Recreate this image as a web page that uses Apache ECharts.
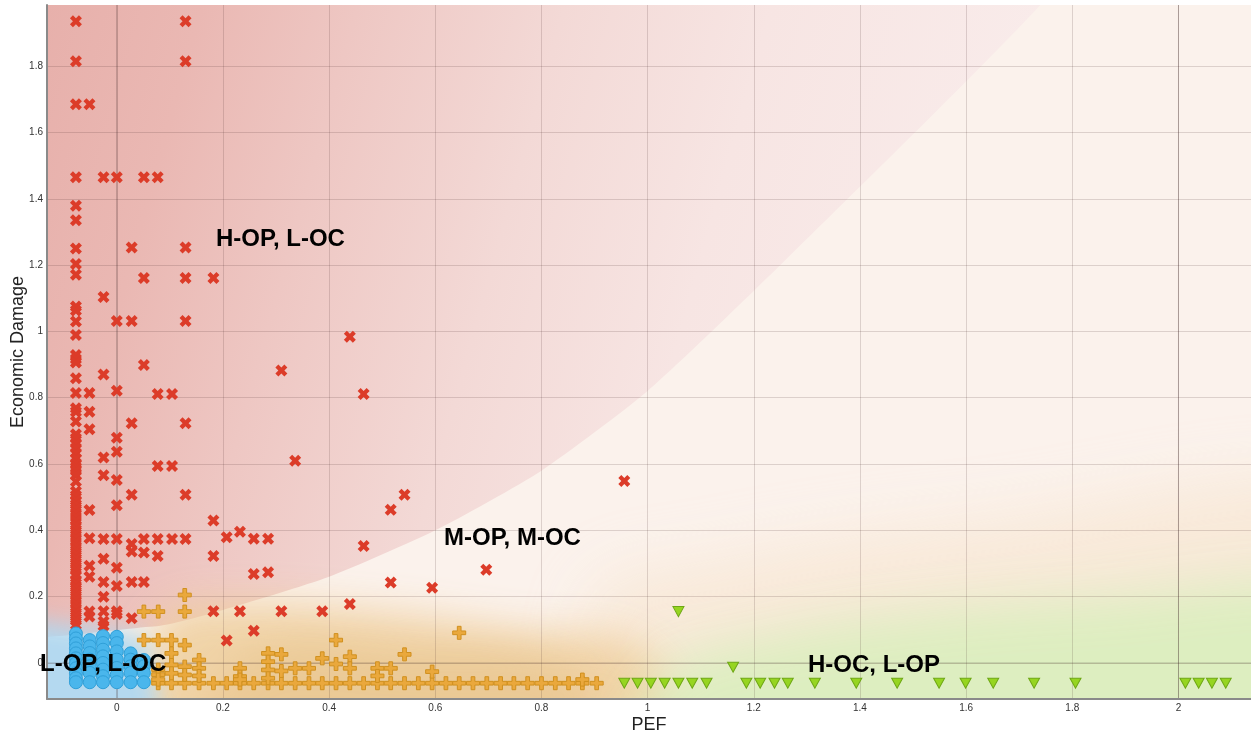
<!DOCTYPE html>
<html>
<head>
<meta charset="utf-8">
<script src="https://cdn.jsdelivr.net/npm/echarts@6/dist/echarts.min.js"></script>
<style>
html,body{margin:0;padding:0;background:#ffffff;}
#chart{width:1251px;height:736px;}
</style>
</head>
<body>
<div id="chart"></div>
<script>
// ---------------- DATA ----------------
// Axis ranges and tick labels
const xRange = [-0.1315, 2.1366];
const yRange = [-0.1086, 1.9843];
const xTickLabels = ['0','0.2','0.4','0.6','0.8','1','1.2','1.4','1.6','1.8','2'];
const yTickLabels = ['0','0.2','0.4','0.6','0.8','1','1.2','1.4','1.6','1.8'];

// Region labels (text annotations)
const regionLabels = ['H-OP, L-OC', 'M-OP, M-OC', 'H-OC, L-OP', 'L-OP, L-OC'];

// Red "x" points (high OP, low OC)
const redPoints = [
  [-0.077,1.935],[-0.077,1.815],[-0.077,1.685],[-0.077,1.465],[-0.077,1.379],[-0.077,1.335],
  [-0.077,1.25],[-0.077,1.203],[-0.077,1.171],[-0.077,1.075],[-0.077,1.063],[-0.077,1.03],
  [-0.077,0.989],[-0.077,0.929],[-0.077,0.917],[-0.077,0.906],[-0.077,0.859],[-0.077,0.814],
  [-0.077,0.768],[-0.077,0.758],[-0.077,0.728],[-0.077,0.69],[-0.077,0.678],[-0.077,0.663],
  [-0.077,0.648],[-0.077,0.633],[-0.077,0.617],[-0.077,0.602],[-0.077,0.59],[-0.077,0.58],
  [-0.077,0.567],[-0.077,0.547],[-0.077,0.517],[-0.077,0.505],[-0.077,0.49],[-0.077,0.478],
  [-0.077,0.465],[-0.077,0.452],[-0.077,0.44],[-0.077,0.428],[-0.077,0.415],[-0.077,0.402],
  [-0.077,0.39],[-0.077,0.377],[-0.077,0.365],[-0.077,0.352],[-0.077,0.34],[-0.077,0.328],
  [-0.077,0.315],[-0.077,0.302],[-0.077,0.29],[-0.077,0.28],[-0.077,0.265],[-0.077,0.25],
  [-0.077,0.24],[-0.077,0.228],[-0.077,0.215],[-0.077,0.203],[-0.077,0.19],[-0.077,0.178],
  [-0.077,0.165],[-0.077,0.152],[-0.077,0.14],[-0.077,0.128],[-0.077,0.115],
  [-0.0515,1.685],[-0.0515,0.814],[-0.0515,0.758],[-0.0515,0.705],[-0.0515,0.461],[-0.0515,0.376],
  [-0.0515,0.293],[-0.0515,0.260],[-0.0515,0.155],[-0.0515,0.140],
  [-0.025,1.465],[-0.025,1.104],[-0.025,0.870],[-0.025,0.620],[-0.025,0.566],[-0.025,0.374],
  [-0.025,0.314],[-0.025,0.244],[-0.025,0.200],[-0.025,0.156],[-0.025,0.125],[-0.025,0.112],
  [0,1.465],[0,1.031],[0,0.821],[0,0.679],[0,0.637],[0,0.552],[0,0.476],[0,0.374],
  [0,0.287],[0,0.232],[0,0.156],[0,0.148],
  [0.028,1.253],[0.028,1.031],[0.028,0.723],[0.028,0.507],[0.028,0.359],[0.028,0.336],
  [0.028,0.244],[0.028,0.135],
  [0.051,1.465],[0.051,1.161],[0.051,0.899],[0.051,0.374],[0.051,0.333],[0.051,0.244],
  [0.077,1.465],[0.077,0.811],[0.077,0.594],[0.077,0.374],[0.077,0.323],
  [0.104,0.811],[0.104,0.594],[0.104,0.374],
  [0.1295,1.935],[0.1295,1.815],[0.1295,1.253],[0.1295,1.161],[0.1295,1.031],[0.1295,0.723],
  [0.1295,0.507],[0.1295,0.374],
  [0.182,1.161],[0.182,0.430],[0.182,0.323],[0.182,0.156],
  [0.207,0.379],[0.207,0.068],
  [0.232,0.396],[0.232,0.156],
  [0.258,0.375],[0.258,0.268],[0.258,0.097],
  [0.285,0.375],[0.285,0.274],
  [0.310,0.882],[0.310,0.156],
  [0.336,0.610],[0.387,0.156],
  [0.439,0.984],[0.439,0.178],
  [0.465,0.811],[0.465,0.353],
  [0.516,0.462],[0.516,0.243],
  [0.542,0.507],[0.594,0.227],[0.696,0.281],[0.956,0.549]
];

// Orange "+" points (medium OP, medium OC)
const orangePoints = [
  [0.078,-0.061],[0.103,-0.061],[0.128,-0.061],[0.155,-0.061],[0.182,-0.061],[0.207,-0.061],
  [0.232,-0.061],[0.258,-0.061],[0.285,-0.061],[0.310,-0.061],[0.336,-0.061],[0.362,-0.061],
  [0.387,-0.061],[0.413,-0.061],[0.439,-0.061],[0.465,-0.061],[0.491,-0.061],[0.516,-0.061],
  [0.542,-0.061],[0.568,-0.061],[0.594,-0.061],[0.620,-0.061],[0.645,-0.061],[0.671,-0.061],
  [0.697,-0.061],[0.723,-0.061],[0.748,-0.061],[0.774,-0.061],[0.800,-0.061],[0.826,-0.061],
  [0.851,-0.061],[0.877,-0.061],[0.904,-0.061],
  [0.128,0.205],[0.051,0.155],[0.078,0.155],[0.128,0.155],
  [0.051,0.069],[0.078,0.069],[0.103,0.069],[0.128,0.054],
  [0.103,0.029],[0.103,-0.006],[0.103,-0.031],
  [0.078,-0.02],[0.078,-0.035],[0.078,-0.05],
  [0.128,-0.011],[0.128,-0.036],
  [0.155,0.009],[0.155,-0.016],[0.155,-0.039],
  [0.232,-0.016],[0.232,-0.041],[0.232,-0.05],
  [0.285,0.029],[0.285,0.004],[0.285,-0.021],[0.285,-0.046],
  [0.310,0.026],[0.310,-0.024],
  [0.336,-0.016],[0.362,-0.016],[0.387,0.014],
  [0.413,0.069],[0.413,-0.003],
  [0.439,0.019],[0.439,-0.016],
  [0.491,-0.016],[0.491,-0.039],
  [0.516,-0.016],[0.542,0.026],[0.594,-0.026],[0.645,0.091],[0.877,-0.05]
];

// Blue circle points (low OP, low OC)
const bluePoints = [
  [-0.077,0.089],[-0.077,0.074],[-0.077,0.059],[-0.077,0.044],[-0.077,0.029],[-0.077,0.014],
  [-0.077,-0.001],[-0.077,-0.016],[-0.077,-0.031],[-0.077,-0.046],[-0.077,-0.058],
  [-0.051,0.069],[-0.051,0.05],[-0.051,0.03],[-0.051,0.01],[-0.051,-0.01],[-0.051,-0.03],[-0.051,-0.058],
  [-0.026,0.081],[-0.026,0.06],[-0.026,0.04],[-0.026,0.02],[-0.026,0.0],[-0.026,-0.02],[-0.026,-0.04],[-0.026,-0.058],
  [0,0.079],[0,0.06],[0,0.035],[0,0.01],[0,-0.015],[0,-0.035],[0,-0.058],
  [0.026,0.029],[0.026,0.01],[0.026,-0.01],[0.026,-0.03],[0.026,-0.058],
  [0.051,0.009],[0.051,-0.01],[0.051,-0.03],[0.051,-0.058]
];

// Green triangle points (high OC, low OP)
const greenPoints = [
  [0.956,-0.061],[0.981,-0.061],[1.006,-0.061],[1.032,-0.061],[1.058,-0.061],[1.084,-0.061],
  [1.111,-0.061],[1.186,-0.061],[1.212,-0.061],[1.239,-0.061],[1.264,-0.061],[1.315,-0.061],
  [1.393,-0.061],[1.470,-0.061],[1.549,-0.061],[1.599,-0.061],[1.651,-0.061],[1.728,-0.061],
  [1.806,-0.061],[2.013,-0.061],[2.038,-0.061],[2.063,-0.061],[2.089,-0.061],
  [1.058,0.155],[1.161,-0.013]
];

// ---------------- BACKGROUND REGIONS (decoration, data coords) ----------------
const pinkShape = [[-0.3,2.2],[1.82,2.2],[1.74,1.985],[1.25,1.2],[1.0,0.82],[0.8,0.58],[0.6,0.40],[0.4,0.26],[0.2,0.16],[0.07,0.11],[-0.3,0.12]];
const softBlobs = [
  {pts:[[0.95,-0.3],[2.4,-0.3],[2.4,0.5],[1.6,0.42],[1.1,0.3],[0.9,0.2]], color:'rgba(246,226,200,0.55)', blur:60},
  {pts:[[0.06,-0.3],[1.05,-0.3],[1.0,0.03],[0.75,0.10],[0.45,0.16],[0.2,0.18],[0.08,0.13]], color:'rgba(238,206,155,0.85)', blur:40},
  {pts:[[0.15,-0.3],[0.9,-0.3],[0.85,-0.02],[0.55,0.03],[0.25,0.02]], color:'rgba(230,192,132,0.5)', blur:40},
  {pts:[[0.97,-0.3],[2.4,-0.3],[2.4,0.2],[1.8,0.19],[1.45,0.14],[1.2,0.07],[1.04,-0.02]], color:'rgba(218,238,190,0.9)', blur:50},
  {pts:[[-0.4,-0.3],[0.06,-0.3],[0.06,0.02],[0.035,0.085],[-0.4,0.105]], color:'rgba(176,216,240,0.95)', blur:22}
];

const OFF = 6000;
function renderBackground(params, api) {
  const P = d => api.coord(d);
  const kids = [];
  const tl = P([xRange[0], yRange[1]]);
  const br = P([xRange[1], yRange[0]]);
  kids.push({type:'rect', shape:{x:tl[0], y:tl[1], width:br[0]-tl[0], height:br[1]-tl[1]}, style:{fill:'#fbf2ec'}});
  const g0 = P([xRange[0], yRange[1]]);
  const g1 = P([1.68, 1.18]);
  kids.push({type:'polygon', shape:{points: pinkShape.map(P), smooth:0.2}, style:{fill:{
    type:'linear', global:true, x:g0[0], y:g0[1], x2:g1[0], y2:g1[1],
    colorStops:[
      {offset:0, color:'#e7b0ab'}, {offset:0.15, color:'#eab8b3'}, {offset:0.3, color:'#eec7c3'},
      {offset:0.5, color:'#f3d9d6'}, {offset:0.7, color:'#f7e5e3'}, {offset:1, color:'#f9eceb'}
    ]}}});
  softBlobs.forEach(b => {
    const pts = b.pts.map(d => { const c = P(d); return [c[0]-OFF, c[1]]; });
    kids.push({type:'polygon', shape:{points:pts, smooth:0.35},
      style:{fill:'#000', shadowBlur:b.blur, shadowColor:b.color, shadowOffsetX:OFF, shadowOffsetY:0}});
  });
  // darker reference grid lines at x=0, x=2 and y=0
  [0, 2].forEach(v => {
    const a = P([v, yRange[0]]), c = P([v, yRange[1]]);
    kids.push({type:'line', shape:{x1:a[0], y1:a[1], x2:c[0], y2:c[1]}, style:{stroke:'rgba(60,40,40,0.32)', lineWidth:1}});
  });
  {
    const a = P([xRange[0], 0]), c = P([xRange[1], 0]);
    kids.push({type:'line', shape:{x1:a[0], y1:a[1], x2:c[0], y2:c[1]}, style:{stroke:'rgba(60,40,40,0.25)', lineWidth:1}});
  }
  return {type:'group', children:kids};
}

// ---------------- SYMBOLS ----------------
const xSymbol = 'path://M3,0 L6,3 L9,0 L12,3 L9,6 L12,9 L9,12 L6,9 L3,12 L0,9 L3,6 L0,3 Z';
const plusSymbol = 'path://M5,0 H9 V5 H14 V9 H9 V14 H5 V9 H0 V5 H5 Z';
const triSymbol = 'path://M0,0 L12,0 L6,11 Z';

const FONT = '"Liberation Sans", Arial, sans-serif';
const chart = echarts.init(document.getElementById('chart'), null, {renderer:'canvas'});

const labelPos = [[216,239],[444,538],[808,665],[40,664]];

chart.setOption({
  animation:false,
  backgroundColor:'#ffffff',
  grid:{left:47, right:0, top:5, bottom:37, containLabel:false, outerBoundsMode:'none'},
  xAxis:{
    type:'value', min:xRange[0], max:xRange[1], splitNumber:11,
    name:'PEF', nameLocation:'middle', nameGap:17, nameMoveOverlap:false,
    nameTextStyle:{fontSize:18, color:'#222', fontFamily:FONT},
    axisLine:{show:true, onZero:false, lineStyle:{color:'#8a8a8a', width:2}},
    axisTick:{show:false},
    axisLabel:{showMinLabel:false, showMaxLabel:false, margin:4, fontSize:10, color:'#333', fontFamily:FONT,
      formatter: v => { const s = xTickLabels.find(t => Math.abs(parseFloat(t) - v) < 1e-6); return s === undefined ? '' : s; }},
    splitLine:{show:true, showMinLine:false, showMaxLine:false, lineStyle:{color:'rgba(70,40,40,0.17)', width:1}}
  },
  yAxis:{
    type:'value', min:yRange[0], max:yRange[1], splitNumber:10,
    name:'Economic Damage', nameLocation:'middle', nameGap:20, nameRotate:90, nameMoveOverlap:false,
    nameTextStyle:{fontSize:18, color:'#222', fontFamily:FONT},
    axisLine:{show:true, onZero:false, lineStyle:{color:'#8a8a8a', width:2}},
    axisTick:{show:false},
    axisLabel:{showMinLabel:false, showMaxLabel:false, margin:4, fontSize:10, color:'#333', fontFamily:FONT,
      formatter: v => { const s = yTickLabels.find(t => Math.abs(parseFloat(t) - v) < 1e-6); return s === undefined ? '' : s; }},
    splitLine:{show:true, showMinLine:false, showMaxLine:false, lineStyle:{color:'rgba(70,40,40,0.17)', width:1}}
  },
  series:[
    {type:'custom', name:'bg', z:-1, clip:true, silent:true, renderItem:renderBackground, data:[[0,0]], encode:{x:0,y:1}},
    {type:'scatter', name:'H-OP, L-OC', data:redPoints, symbol:xSymbol, symbolSize:12,
      itemStyle:{color:'#dc3c29', opacity:1}, z:3},
    {type:'scatter', name:'M-OP, M-OC', data:orangePoints, symbol:plusSymbol, symbolSize:13,
      itemStyle:{color:'#eaa83c', borderColor:'#d0901f', borderWidth:1, opacity:1}, z:3},
    {type:'scatter', name:'H-OC, L-OP', data:greenPoints, symbol:triSymbol, symbolSize:[11,10],
      itemStyle:{color:'#96d520', borderColor:'#6ea715', borderWidth:1, opacity:1}, z:3},
    {type:'scatter', name:'L-OP, L-OC', data:bluePoints, symbol:'circle', symbolSize:13,
      itemStyle:{color:'#4ab6ec', borderColor:'#2f9fd8', borderWidth:1, opacity:1}, z:4}
  ],
  graphic: regionLabels.map((t, i) => ({
    type:'text', x:labelPos[i][0], y:labelPos[i][1], z:100, silent:true,
    style:{text:t, fill:'#000', font:'bold 24px ' + FONT, align:'left', verticalAlign:'middle'}
  }))
});
</script>
</body>
</html>
